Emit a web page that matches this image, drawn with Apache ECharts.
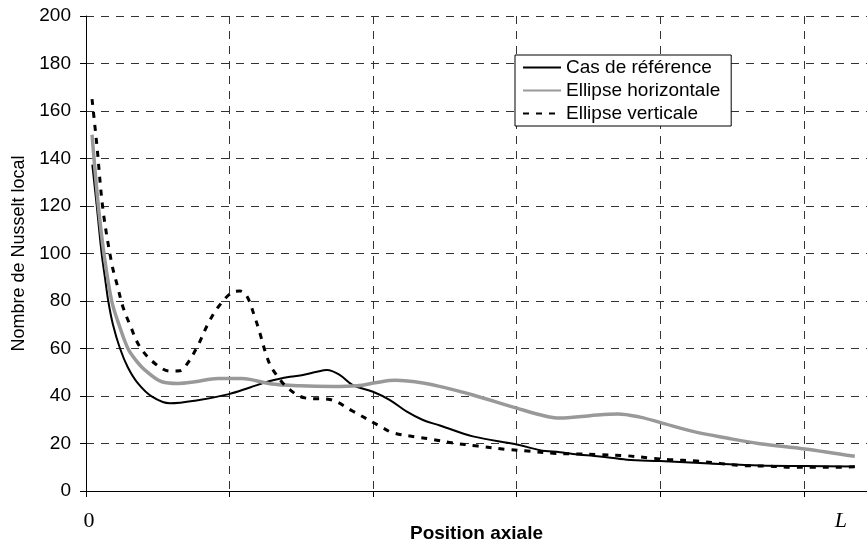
<!DOCTYPE html>
<html>
<head>
<meta charset="utf-8">
<script src="https://cdn.jsdelivr.net/npm/echarts@6/dist/echarts.min.js"></script>
<style>
html, body { margin: 0; padding: 0; background: #fff; }
#main { width: 867px; height: 548px; }
</style>
</head>
<body>
<div id="main"></div>
<script>
// position axiale (1 unité = 1 intervalle de grille), L = fin des courbes
var L = 5.355;
var xMax = 5.44;

// Cas de référence
var refX = [0.044, 0.075, 0.109, 0.132, 0.155, 0.188, 0.237, 0.292, 0.362, 0.46, 0.585, 0.759, 0.996, 1.142, 1.281, 1.421, 1.511, 1.609, 1.678, 1.769, 1.859, 1.999, 2.117, 2.235, 2.347, 2.465, 2.695, 3.001, 3.162, 3.301, 3.391, 3.579, 3.767, 3.997, 4.345, 4.694, 5.007, L];
var refY = [137.4, 120, 100, 89.9, 80, 70, 60, 52, 45.3, 39.7, 36.9, 38, 40.8, 43.6, 46.3, 48.1, 48.8, 50.2, 50.9, 48.8, 44.6, 41.8, 38.3, 33.4, 29.9, 27.6, 23, 19.6, 17.2, 16.3, 15.6, 14.5, 13.2, 12.6, 11.6, 10.7, 10.5, 10.3];

// Ellipse horizontale
var horX = [0.042, 0.086, 0.125, 0.179, 0.23, 0.292, 0.348, 0.411, 0.529, 0.641, 0.759, 0.919, 1.086, 1.142, 1.281, 1.49, 1.72, 1.887, 2.026, 2.152, 2.347, 2.535, 2.695, 3.001, 3.162, 3.301, 3.51, 3.705, 3.858, 3.997, 4.227, 4.464, 4.694, 5.007, L];
var horY = [150, 120, 100, 80, 70, 60, 55, 50.9, 46, 45.3, 46, 47.4, 47.4, 47, 45.2, 44.3, 44, 44.3, 45.7, 46.6, 45.5, 43, 40.4, 34.9, 32.1, 30.7, 31.7, 32.4, 31.1, 28.9, 25.1, 22.3, 19.9, 17.7, 14.6];

// Ellipse verticale
var verX = [0.042, 0.075, 0.118, 0.179, 0.216, 0.258, 0.306, 0.376, 0.48, 0.585, 0.655, 0.703, 0.78, 0.85, 0.919, 1.017, 1.072, 1.121, 1.177, 1.212, 1.26, 1.302, 1.407, 1.525, 1.699, 1.859, 2.047, 2.138, 2.305, 2.416, 2.549, 2.73, 2.932, 3.078, 3.252, 3.419, 3.579, 3.753, 3.928, 4.067, 4.255, 4.415, 4.575, 4.749, 4.923, 5.077, 5.23, L];
var verY = [165, 146, 118.6, 95.8, 87, 77.4, 70, 60.6, 53.7, 50.5, 50.6, 53.4, 61.3, 70.4, 77.3, 83.6, 84.2, 82, 73, 66.3, 56.5, 51, 43.3, 39.2, 38.5, 33.6, 27.3, 24.5, 22.7, 21.7, 20.3, 18.9, 17.5, 16.8, 15.9, 15.6, 15.3, 14.9, 13.9, 13.2, 12.6, 11.6, 10.7, 10.5, 10, 10, 10, 10.2];

var seriesNames = ['Cas de référence', 'Ellipse horizontale', 'Ellipse verticale'];
var yTicks = { min: 0, max: 200, interval: 20 };

function pairs(xs, ys) {
    var out = [];
    for (var i = 0; i < xs.length; i++) {
        out.push([xs[i], ys[i]]);
    }
    return out;
}

var font = "'Liberation Sans', Arial, sans-serif";
var dashGrid = { color: '#333', width: 1, type: [8, 7] };

var myChart = echarts.init(document.getElementById('main'), null, { renderer: 'canvas' });
var option = {
    animation: false,
    backgroundColor: '#fff',
    textStyle: { fontFamily: font },
    grid: { left: 86, right: 0, top: 16, bottom: 53, containLabel: false },
    legend: {
        orient: 'vertical',
        left: 515,
        top: 55,
        padding: [3, 11, 3, 7],
        itemWidth: 38,
        itemHeight: 10,
        itemGap: 4,
        borderColor: '#000',
        borderWidth: 1,
        backgroundColor: '#fff',
        itemStyle: { opacity: 0 },   // pas de rond dans la légende
        textStyle: { fontSize: 19, color: '#000', fontFamily: font, lineHeight: 19 },
        data: seriesNames
    },
    xAxis: {
        type: 'value',
        min: 0,
        max: xMax,
        interval: 1,
        name: 'Position axiale',
        nameLocation: 'middle',
        nameGap: 33,
        nameTextStyle: { fontSize: 19, fontWeight: 'bold', color: '#000', fontFamily: font },
        axisLine: { show: true, onZero: false, lineStyle: { color: '#000', width: 1 } },
        axisTick: { show: true, length: 6, lineStyle: { color: '#000' } },
        axisLabel: { show: false },
        splitLine: { show: true, showMaxLine: false, lineStyle: dashGrid }
    },
    yAxis: {
        type: 'value',
        min: yTicks.min,
        max: yTicks.max,
        interval: yTicks.interval,
        name: 'Nombre de Nusselt local',
        nameLocation: 'middle',
        nameGap: 57,
        nameTextStyle: { fontSize: 18, color: '#000', fontFamily: font },
        axisLine: { show: true, lineStyle: { color: '#000', width: 1 } },
        axisTick: { show: true, length: 6, lineStyle: { color: '#000' } },
        axisLabel: { fontSize: 19, color: '#000', margin: 15, fontFamily: font },
        splitLine: { show: true, lineStyle: dashGrid }
    },
    series: [
        {
            name: seriesNames[0], type: 'line', smooth: 0.35, showSymbol: false, symbol: 'none',
            lineStyle: { color: '#000', width: 2 }, itemStyle: { color: '#000' },
            data: pairs(refX, refY)
        },
        {
            name: seriesNames[1], type: 'line', smooth: 0.35, showSymbol: false, symbol: 'none',
            lineStyle: { color: '#999', width: 3.5 }, itemStyle: { color: '#999' },
            data: pairs(horX, horY)
        },
        {
            name: seriesNames[2], type: 'line', smooth: 0.35, showSymbol: false, symbol: 'none',
            lineStyle: { color: '#000', width: 3, type: [6, 7] }, itemStyle: { color: '#000' },
            data: pairs(verX, verY)
        }
    ]
};
myChart.setOption(option);

// étiquettes "0" et "L" sous l'axe
var p0 = myChart.convertToPixel({ gridIndex: 0 }, [0, 0]);
var pL = myChart.convertToPixel({ gridIndex: 0 }, [L, 0]);
myChart.setOption({
    graphic: [
        { type: 'text', x: p0[0] + 3, y: p0[1] + 30, style: { text: '0', font: "22px 'Liberation Serif', serif", fill: '#000', align: 'center', verticalAlign: 'middle' } },
        { type: 'text', x: pL[0] - 14, y: pL[1] + 30, style: { text: 'L', font: "italic 22px 'Liberation Serif', serif", fill: '#000', align: 'center', verticalAlign: 'middle' } }
    ]
});
</script>
</body>
</html>
